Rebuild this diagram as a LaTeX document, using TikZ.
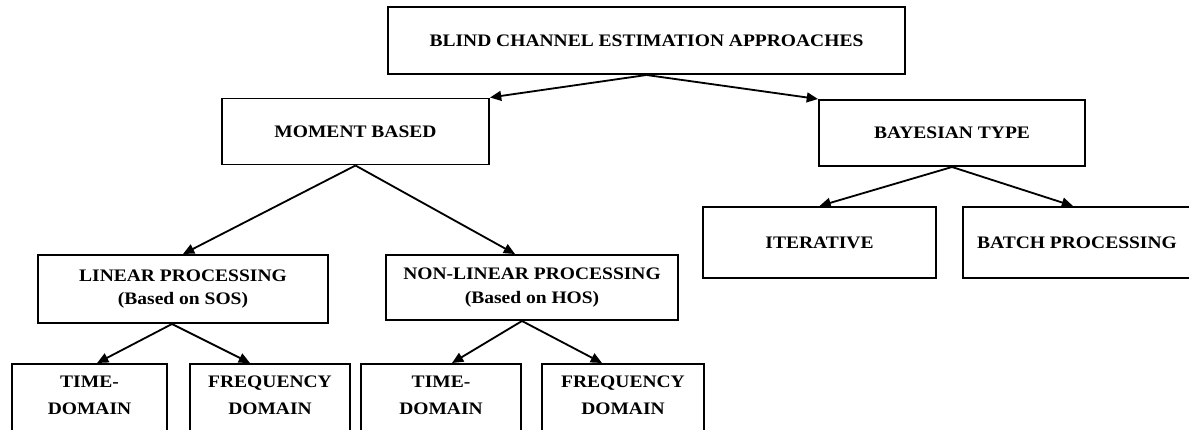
\documentclass[tikz,border=0pt]{standalone}
\usepackage{fontspec}
\setmainfont{Liberation Serif}[FakeStretch=1.11]
\usepackage{tikz}
\usetikzlibrary{positioning,arrows.meta}

\begin{document}
\begin{tikzpicture}[x=0.025cm,y=-0.025cm,
  box/.style={draw=black, line width=1.4pt, align=center, font=\fontsize{12.5}{16.5}\selectfont\bfseries, inner sep=0pt},
  leaf/.style={box, anchor=north, font=\fontsize{12.5}{18.5}\selectfont\bfseries, text height=1.25cm, text depth=0.8cm},
  arr/.style={line width=1.3pt, -{Triangle[length=8pt,width=7pt]}}]
\useasboundingbox (0,0) rectangle (1189,429);
\node[box, minimum width=12.925cm, minimum height=1.675cm] (blind) at (646.5,40.5) {BLIND CHANNEL ESTIMATION APPROACHES};
\node[box, minimum width=6.675cm, minimum height=1.65cm] (moment) at (355.5,131.5) {MOMENT BASED};
\node[box, minimum width=6.65cm, minimum height=1.65cm] (bayes) at (952,133) {BAYESIAN TYPE};
\node[box, minimum width=5.825cm, minimum height=1.775cm] (iter) at (819.5,242.5) {ITERATIVE};
\node[box, minimum width=5.7cm, minimum height=1.775cm] (batch) at (1077,242.5) {BATCH PROCESSING};
\node[box, minimum width=7.25cm, minimum height=1.7cm] (linear) at (183,289) {LINEAR PROCESSING\\(Based on SOS)};
\node[box, minimum width=7.3cm, minimum height=1.625cm] (nonlin) at (532,287.5) {NON-LINEAR PROCESSING\\(Based on HOS)};
\node[leaf, minimum width=3.875cm] (timeA) at (89.5,363) {TIME-\\DOMAIN};
\node[leaf, minimum width=4cm] (freqA) at (270,363) {FREQUENCY\\DOMAIN};
\node[leaf, minimum width=4cm] (timeB) at (441,363) {TIME-\\DOMAIN};
\node[leaf, minimum width=4.05cm] (freqB) at (623,363) {FREQUENCY\\DOMAIN};
\draw[arr] (blind.south) -- (moment.north east);
\draw[arr] (blind.south) -- (bayes.north west);
\draw[arr] (moment.south) -- (linear.north);
\draw[arr] (moment.south) -- ([xshift=-0.425cm]nonlin.north);
\draw[arr] (bayes.south) -- (iter.north);
\draw[arr] (bayes.south) -- ([xshift=-0.1cm]batch.north);
\draw[arr] ([xshift=-0.275cm]linear.south) -- ([xshift=0.19cm]timeA.north);
\draw[arr] ([xshift=-0.275cm]linear.south) -- ([xshift=-0.5cm]freqA.north);
\draw[arr] ([xshift=-0.25cm]nonlin.south) -- ([xshift=0.275cm]timeB.north);
\draw[arr] ([xshift=-0.25cm]nonlin.south) -- ([xshift=-0.525cm]freqB.north);
\end{tikzpicture}
\end{document}
